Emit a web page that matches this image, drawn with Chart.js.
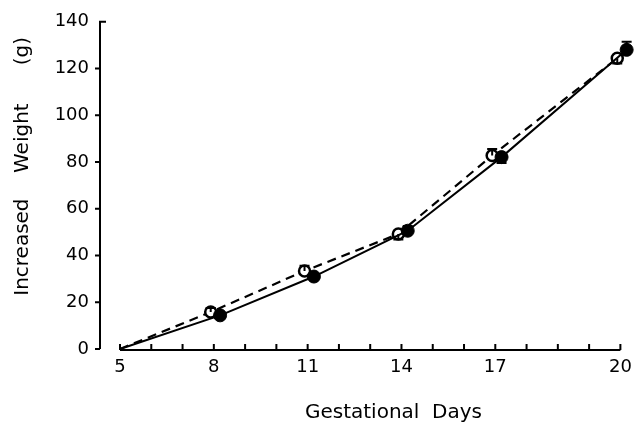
<!DOCTYPE html>
<html>
<head>
<meta charset="utf-8">
<script src="https://cdn.jsdelivr.net/npm/chart.js@4/dist/chart.umd.min.js"></script>
<style>
    html, body { margin: 0; padding: 0; background: #fff; }
    #chart { display: block; }
</style>
</head>
<body>
<canvas id="chart" width="640" height="430"></canvas>
<script>
// ── Data ──────────────────────────────────────────────────────────────────────
// the printed axis has 17 evenly spaced ticks, the last one is labelled 20
const tickLabels = ["5", "", "", "8", "", "", "11", "", "", "14", "", "", "17", "", "", "", "20"];
const daySlots = [0, 3, 6, 9, 12, 16];           // where days 5, 8, 11, 14, 17, 20 sit on that axis
const yTicks = [0, 20, 40, 60, 80, 100, 120, 140];

const openWeight = [0, 15.8, 33.4, 49.2, 82.8, 124.4];      // open circles, dashed line
const filledWeight = [0, 14.4, 31.0, 50.6, 82.1, 128.0];    // filled circles, solid line
const openBarEnd = [null, 17.5, 35.6, 46.9, 85.6, 122.2];   // one-sided error bars
const filledBarEnd = [null, null, null, 52.6, 79.6, 131.5];

const OPEN_SHIFT = -0.1;
const FILLED_SHIFT = 0.2;
const FONT = "'DejaVu Sans', sans-serif";

const openPoints = daySlots.map((s, i) => ({ x: s + (i ? OPEN_SHIFT : 0), y: openWeight[i] }));
const filledPoints = daySlots.map((s, i) => ({ x: s + (i ? FILLED_SHIFT : 0), y: filledWeight[i] }));

// ── Axes + error bars drawn on top of the library scales ─────────────────────
const axesPlugin = {
    id: "axes",
    afterDatasetsDraw(chart) {
        const { ctx, scales: { x, y } } = chart;
        ctx.save();
        ctx.strokeStyle = "#000";
        ctx.lineWidth = 2;
        ctx.lineCap = "butt";

        // y axis with outward ticks and the little hook at the top
        const ax = chart.chartArea.left;
        ctx.beginPath();
        ctx.moveTo(ax + 6, y.getPixelForValue(140));
        ctx.lineTo(ax, y.getPixelForValue(140));
        ctx.lineTo(ax, y.getPixelForValue(0));
        yTicks.slice(0, -1).forEach((v) => {
            const py = y.getPixelForValue(v);
            ctx.moveTo(ax - 5, py);
            ctx.lineTo(ax, py);
        });
        ctx.stroke();

        // x axis, starts at day 5, ticks point up
        const base = y.getPixelForValue(0) + 1;
        ctx.beginPath();
        ctx.moveTo(x.getPixelForValue(0), base);
        ctx.lineTo(x.getPixelForValue(tickLabels.length - 1), base);
        tickLabels.forEach((_, i) => {
            const px = x.getPixelForValue(i);
            ctx.moveTo(px, base);
            ctx.lineTo(px, base - 6);
        });
        ctx.stroke();

        // error bars
        const bars = [[openPoints, openBarEnd], [filledPoints, filledBarEnd]];
        bars.forEach(([pts, ends]) => {
            pts.forEach((p, i) => {
                if (ends[i] == null) return;
                const px = x.getPixelForValue(p.x);
                const py = y.getPixelForValue(p.y);
                const pe = y.getPixelForValue(ends[i]);
                ctx.beginPath();
                ctx.moveTo(px, py);
                ctx.lineTo(px, pe);
                ctx.moveTo(px - 5, pe);
                ctx.lineTo(px + 5, pe);
                ctx.stroke();
            });
        });
        ctx.restore();
    },
};

// ── Chart ─────────────────────────────────────────────────────────────────────
new Chart(document.getElementById("chart").getContext("2d"), {
    type: "scatter",
    data: {
        datasets: [
            {
                data: filledPoints,
                showLine: true,
                borderColor: "#000",
                borderWidth: 2,
                pointRadius: filledPoints.map((_, i) => (i ? 6.5 : 0)),
                pointBackgroundColor: "#000",
                pointBorderColor: "#000",
                pointBorderWidth: 1,
            },
            {
                data: openPoints,
                showLine: true,
                borderColor: "#000",
                borderWidth: 2.2,
                borderDash: [9, 6],
                pointRadius: openPoints.map((_, i) => (i ? 5.5 : 0)),
                pointBackgroundColor: "#fff",
                pointBorderColor: "#000",
                pointBorderWidth: 2.5,
            },
        ],
    },
    options: {
        responsive: false,
        animation: false,
        clip: false,
        layout: { padding: { top: 18, right: 9, left: 0, bottom: 0 } },
        plugins: { legend: { display: false }, tooltip: { enabled: false } },
        scales: {
            x: {
                type: "linear",
                min: -0.64,
                max: 16.3,
                afterBuildTicks: (scale) => {
                    scale.ticks = tickLabels.map((_, i) => ({ value: i }));
                },
                afterFit: (scale) => { scale.height = 81; },
                grid: { display: false, drawTicks: false },
                border: { display: false },
                ticks: {
                    autoSkip: false,
                    maxRotation: 0,
                    padding: 8,
                    color: "#000",
                    font: { family: FONT, size: 18 },
                    callback: (v) => tickLabels[v] ?? "",
                },
                title: {
                    display: true,
                    text: "         Gestational  Days",
                    color: "#000",
                    font: { family: FONT, size: 20 },
                    padding: { top: 0, bottom: 5 },
                },
            },
            y: {
                min: 0,
                max: 140,
                afterBuildTicks: (scale) => {
                    scale.ticks = yTicks.map((v) => ({ value: v }));
                },
                afterFit: (scale) => { scale.width = 100; },
                grid: { display: false, drawTicks: false },
                border: { display: false },
                ticks: {
                    padding: 11,
                    color: "#000",
                    font: { family: FONT, size: 18 },
                },
                title: {
                    display: true,
                    text: "      Increased    Weight      (g)",
                    color: "#000",
                    font: { family: FONT, size: 20 },
                    padding: { top: 11, bottom: 0 },
                },
            },
        },
    },
    plugins: [axesPlugin],
});
</script>
</body>
</html>
